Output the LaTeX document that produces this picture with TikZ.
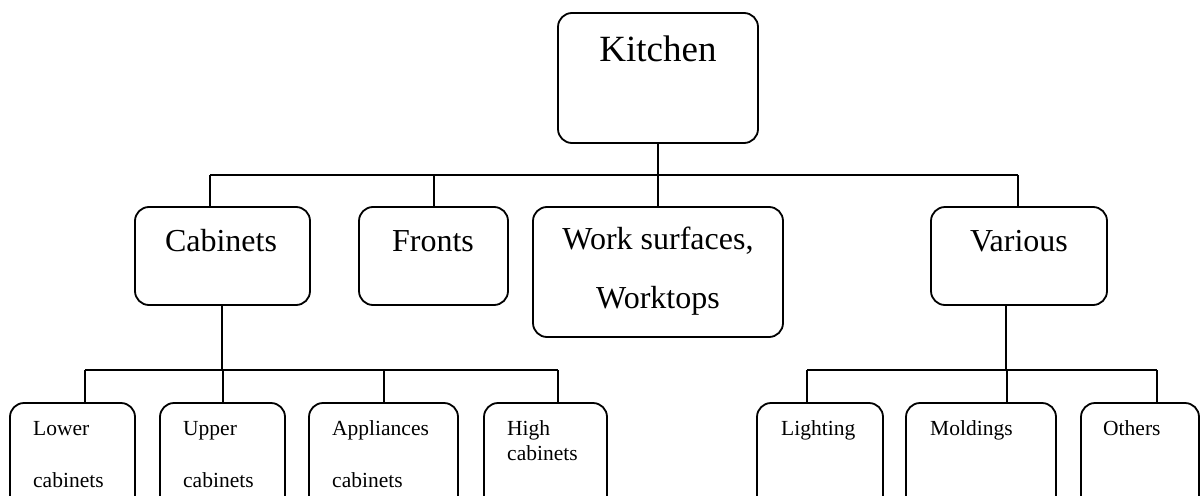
\documentclass[tikz,border=0pt]{standalone}
\usepackage{fontspec}
\setmainfont{Liberation Serif}
\begin{document}
\begin{tikzpicture}[x=1pt,y=-1pt,
  box/.style={draw, line width=1.8pt, rounded corners=14pt, inner sep=0pt, outer sep=0pt},
  conn/.style={line width=1.8pt},
  huge/.style={font=\fontsize{37}{44}\selectfont, inner sep=0pt},
  mid/.style={font=\fontsize{32}{38}\selectfont, inner sep=0pt},
  small/.style={font=\fontsize{21.5}{26}\selectfont, inner sep=0pt, anchor=base west}]
\useasboundingbox (0,0) rectangle (1201,495);
\clip (0,0) rectangle (1201,495);

% root
\node[box, minimum width=200pt, minimum height=130pt] (kitchen) at (658,78) {};
\node[huge, anchor=base] (tkitchen) at (658,62) {Kitchen};

% second level
\node[box, minimum width=175pt, minimum height=98pt] (cab) at (222.5,256) {};
\node[box, minimum width=149pt, minimum height=98pt] (fronts) at (433.5,256) {};
\node[box, minimum width=250pt, minimum height=130pt] (work) at (658,272) {};
\node[box, minimum width=176pt, minimum height=98pt] (various) at (1019,256) {};

\node[mid, anchor=base] (tcab) at (221,251) {Cabinets};
\node[mid, anchor=base] (tfronts) at (433,251) {Fronts};
\node[mid, anchor=base] (twork1) at (658,249) {Work surfaces,};
\node[mid, anchor=base] (twork2) at (658,308) {Worktops};
\node[mid, anchor=base] (tvarious) at (1019,251) {Various};

% third level
\node[box, minimum width=125pt, minimum height=127pt] (lower) at (72.5,466.5) {};
\node[box, minimum width=125pt, minimum height=127pt] (upper) at (222.5,466.5) {};
\node[box, minimum width=149pt, minimum height=127pt] (appl) at (383.5,466.5) {};
\node[box, minimum width=123pt, minimum height=127pt] (high) at (545.5,466.5) {};
\node[box, minimum width=126pt, minimum height=127pt] (lighting) at (820,466.5) {};
\node[box, minimum width=150pt, minimum height=127pt] (moldings) at (981,466.5) {};
\node[box, minimum width=118pt, minimum height=127pt] (others) at (1140,466.5) {};

\node[small] (tlower1) at (33,435) {Lower};
\node[small] (tlower2) at (33,487) {cabinets};
\node[small] (tupper1) at (183,435) {Upper};
\node[small] (tupper2) at (183,487) {cabinets};
\node[small] (tappl1) at (332,435) {Appliances};
\node[small] (tappl2) at (332,487) {cabinets};
\node[small] (thigh1) at (507,435) {High};
\node[small] (thigh2) at (507,460) {cabinets};
\node[small] (tlighting) at (781,435) {Lighting};
\node[small] (tmoldings) at (930,435) {Moldings};
\node[small] (tothers) at (1103,435) {Others};

% bus junctions
\coordinate (jk) at (658,175);
\coordinate (jcab) at (210,175);
\coordinate (jfr) at (434,175);
\coordinate (jva) at (1018,175);
\coordinate (jc) at (222,370);
\coordinate (jlo) at (85,370);
\coordinate (jup) at (223,370);
\coordinate (jap) at (384,370);
\coordinate (jhi) at (558,370);
\coordinate (jv) at (1006,370);
\coordinate (jli) at (807,370);
\coordinate (jmo) at (1007,370);
\coordinate (jot) at (1157,370);

% connectors, first level
\draw[conn] (kitchen.south) -- (jk);
\draw[conn] (jcab) -- (jva);
\draw[conn] (jcab) -- (jcab |- cab.north);
\draw[conn] (jfr) -- (jfr |- fronts.north);
\draw[conn] (jk) -- (work.north);
\draw[conn] (jva) -- (jva |- various.north);

% connectors, cabinets
\draw[conn] (jc |- cab.south) -- (jc);
\draw[conn] (jlo) -- (jhi);
\draw[conn] (jlo) -- (jlo |- lower.north);
\draw[conn] (jup) -- (jup |- upper.north);
\draw[conn] (jap) -- (jap |- appl.north);
\draw[conn] (jhi) -- (jhi |- high.north);

% connectors, various
\draw[conn] (jv |- various.south) -- (jv);
\draw[conn] (jli) -- (jot);
\draw[conn] (jli) -- (jli |- lighting.north);
\draw[conn] (jmo) -- (jmo |- moldings.north);
\draw[conn] (jot) -- (jot |- others.north);
\end{tikzpicture}
\end{document}
